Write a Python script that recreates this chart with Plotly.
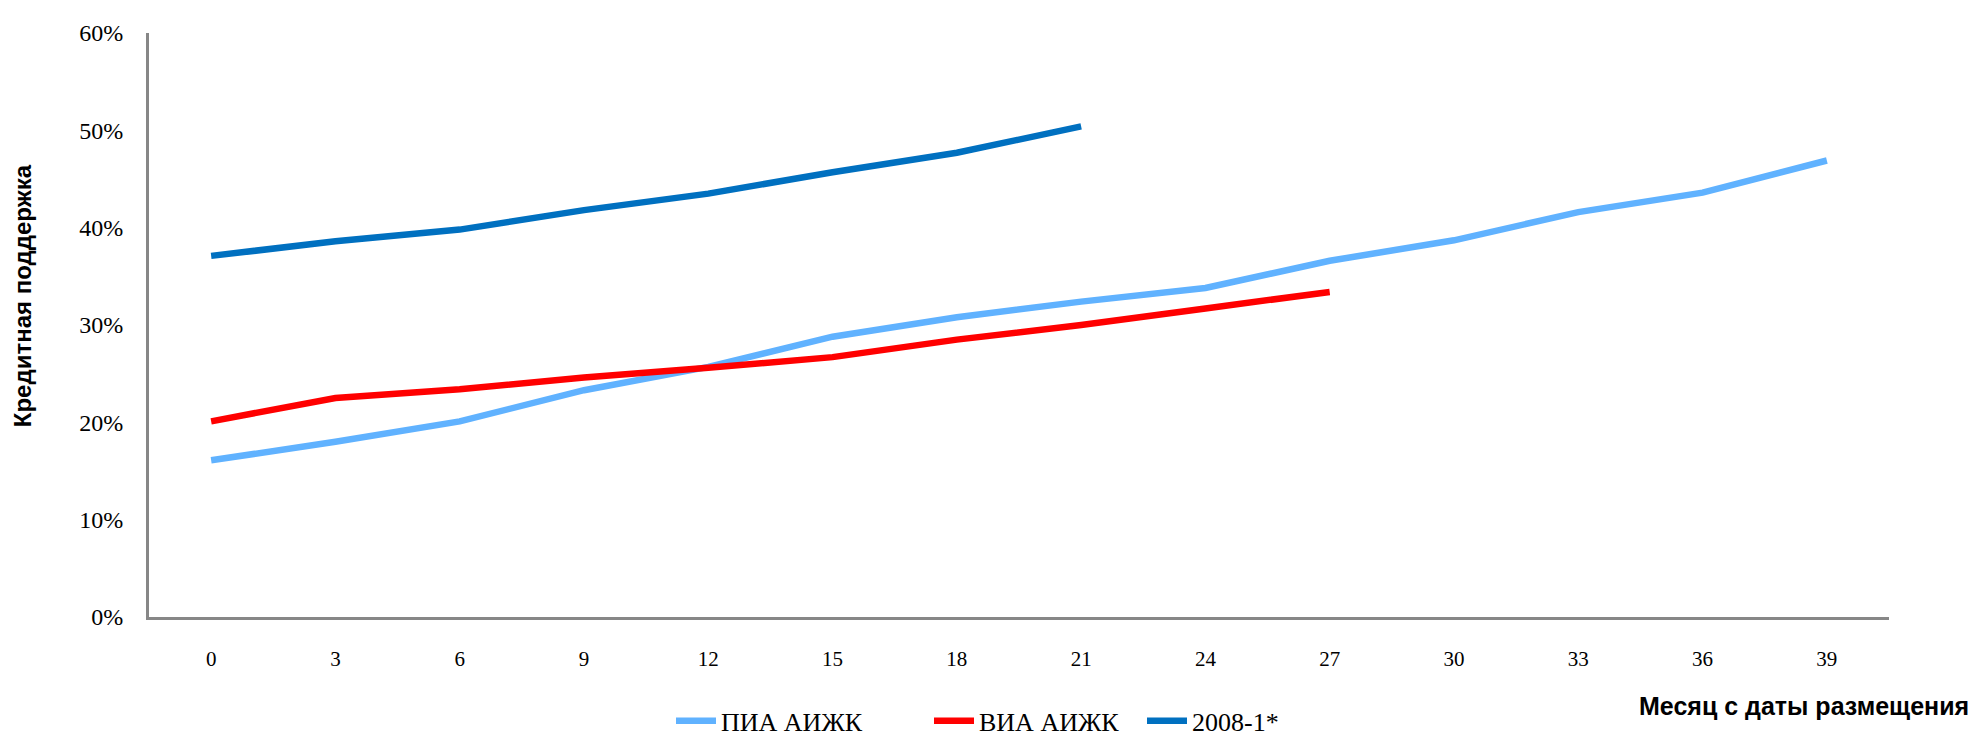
import plotly.graph_objects as go

months = [0, 3, 6, 9, 12, 15, 18, 21, 24, 27, 30, 33, 36, 39]
series_a_name = "ПИА АИЖК"
series_a = [16.1, 18.0, 20.1, 23.3, 25.7, 28.8, 30.8, 32.4, 33.8, 36.6, 38.7, 41.6, 43.6, 46.9]
series_b_name = "ВИА АИЖК"
series_b = [20.1, 22.5, 23.4, 24.6, 25.6, 26.7, 28.5, 30.0, 31.7, 33.4]
series_c_name = "2008-1*"
series_c = [37.1, 38.6, 39.8, 41.8, 43.5, 45.7, 47.7, 50.4]
y_ticks = [0, 10, 20, 30, 40, 50, 60]
y_tick_labels = ["0%", "10%", "20%", "30%", "40%", "50%", "60%"]

colors = ["#60B2FF", "#FF0000", "#0070C0"]

serif = "Liberation Serif, Times New Roman, serif"
sans = "Liberation Sans, Arial, sans-serif"

fig = go.Figure()
legend_ids = ["legend", "legend2", "legend3"]
for name, vals, col, lg in [(series_a_name, series_a, colors[0], legend_ids[0]),
                            (series_b_name, series_b, colors[1], legend_ids[1]),
                            (series_c_name, series_c, colors[2], legend_ids[2])]:
    fig.add_trace(go.Scatter(x=months[:len(vals)], y=vals, name=name, mode="lines",
                             line=dict(color=col, width=6.5), legend=lg))

def leg(xpix):
    return dict(orientation="h", xref="container", yref="container",
                x=xpix / 1988, y=0.03, xanchor="left", yanchor="middle",
                font=dict(family=serif, size=26, color="black"),
                bgcolor="rgba(0,0,0,0)", itemwidth=40)

fig.update_layout(
    width=1988, height=735,
    margin=dict(l=141, r=107, t=15, b=126),
    plot_bgcolor="white", paper_bgcolor="white",
    showlegend=True,
    legend=leg(663), legend2=leg(921), legend3=leg(1134),
    xaxis=dict(range=[-1.5, 40.5], tickvals=months, ticktext=[str(m) for m in months],
               showgrid=False, zeroline=False, showline=True, linecolor="#878787", linewidth=3,
               ticks="outside", ticklen=21, tickcolor="rgba(0,0,0,0)",
               tickfont=dict(family=serif, size=21, color="black"), fixedrange=True),
    yaxis=dict(range=[0, 60], tickvals=y_ticks, ticktext=y_tick_labels,
               showgrid=False, zeroline=False, showline=True, linecolor="#878787", linewidth=3,
               ticks="outside", ticklen=18, tickcolor="rgba(0,0,0,0)",
               tickfont=dict(family=serif, size=24, color="black")),
    annotations=[
        dict(text="<b>Кредитная поддержка</b>", xref="paper", yref="paper", x=-0.073, y=0.551,
             xanchor="center", yanchor="middle", textangle=-90, showarrow=False,
             font=dict(family=sans, size=24, color="black")),
        dict(text="<b>Месяц с даты размещения</b>", xref="paper", yref="paper", x=0.855, y=-0.152,
             xanchor="left", yanchor="middle", showarrow=False,
             font=dict(family=sans, size=25, color="black")),
    ],
)

fig.write_html("out.html")
